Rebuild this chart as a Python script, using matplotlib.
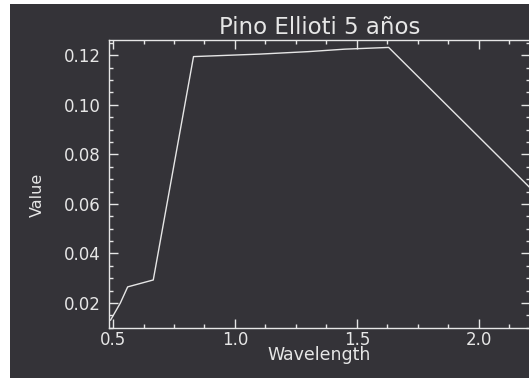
import numpy as np
import matplotlib
matplotlib.use('Agg')
from matplotlib import pyplot as plt
from matplotlib.patches import Rectangle
from matplotlib.ticker import MultipleLocator, FormatStrFormatter

# reflectance spectrum, pine (Pinus elliottii), 5 years
wavelength = [0.49, 0.53, 0.56, 0.665, 0.83, 1.10, 1.30, 1.45, 1.63, 2.215]
value = [0.0131, 0.0200, 0.0265, 0.0293, 0.1195, 0.1205, 0.1215, 0.1225, 0.1232, 0.0660]

bg = '#343338'
fg = '#e6e6e6'

W, H = 529, 378
fig = plt.figure(figsize=(W / 100, H / 100), dpi=100, facecolor='white')
# dark plotting window, leaving a thin white strip on the left and top
fig.patches.append(Rectangle((10 / W, 0), 1 - 10 / W, (H - 4) / H,
                             transform=fig.transFigure, facecolor=bg,
                             edgecolor='none', zorder=-5))

ax = fig.add_axes([109 / W, (H - 328) / H, (529.5 - 109) / W, 288 / H])
ax.set_facecolor(bg)
ax.plot(wavelength, value, color=fg, lw=1.0)

ax.set_xlim(0.4835, 2.2075)
ax.set_ylim(0.0099, 0.1262)
ax.xaxis.set_major_locator(MultipleLocator(0.5))
ax.xaxis.set_minor_locator(MultipleLocator(0.125))
ax.yaxis.set_major_locator(MultipleLocator(0.02))
ax.yaxis.set_minor_locator(MultipleLocator(0.005))
ax.xaxis.set_major_formatter(FormatStrFormatter('%.1f'))
ax.yaxis.set_major_formatter(FormatStrFormatter('%.2f'))

for s in ax.spines.values():
    s.set_color(fg)
    s.set_linewidth(1.0)
ax.tick_params(which='both', direction='in', color=fg, labelcolor=fg,
               top=True, right=True, width=1.0)
ax.tick_params(which='major', length=6.5, labelsize=12)
ax.tick_params(which='minor', length=3.2)
ax.tick_params(axis='y', pad=6)
ax.tick_params(axis='x', pad=2)

ax.set_title('Pino Ellioti 5 años', color=fg, fontsize=16.5, pad=4)
fig.text(319 / W, 1 - 355 / H, 'Wavelength', color=fg, fontsize=12.5,
         ha='center', va='center')
fig.text(37 / W, 1 - 195 / H, 'Value', color=fg, fontsize=11.5,
         ha='center', va='center', rotation=90)

fig.savefig('out.png', dpi=100, facecolor=fig.get_facecolor())
